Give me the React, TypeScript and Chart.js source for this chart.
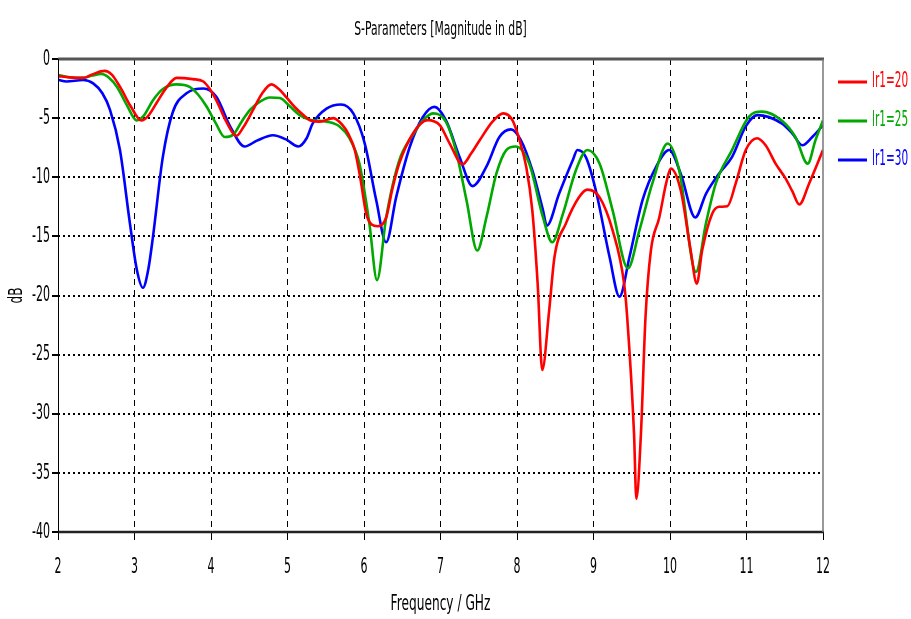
import React, { useEffect, useRef } from "react";
import { Chart, registerables } from "chart.js";

Chart.register(...registerables);

const FONT = "'DejaVu Sans', 'Liberation Sans', sans-serif";

const chartTitle = "S-Parameters [Magnitude in dB]";
const xTitle = "Frequency / GHz";
const yTitle = "dB";
const seriesNames = ["lr1=20", "lr1=25", "lr1=30"];
const seriesColors = ["#ff0000", "#00a800", "#0000ff"];

const freq20 = [2.0, 2.15, 2.33, 2.45, 2.61, 2.7, 2.81, 2.95, 3.09, 3.18, 3.29, 3.42, 3.55, 3.76, 3.9, 3.98, 4.07, 4.2, 4.33, 4.42, 4.55, 4.67, 4.79, 4.88, 4.98, 5.1, 5.2, 5.3, 5.42, 5.6, 5.72, 5.8, 5.88, 5.95, 6.03, 6.1, 6.18, 6.29, 6.37, 6.46, 6.64, 6.83, 6.99, 7.12, 7.29, 7.4, 7.51, 7.68, 7.82, 7.94, 8.03, 8.12, 8.2, 8.27, 8.33, 8.42, 8.49, 8.64, 8.81, 8.92, 9.08, 9.25, 9.4, 9.44, 9.53, 9.56, 9.62, 9.68, 9.75, 9.86, 9.95, 10.01, 10.14, 10.27, 10.35, 10.42, 10.55, 10.64, 10.75, 10.86, 10.99, 11.14, 11.25, 11.38, 11.51, 11.6, 11.69, 11.82, 12.0];
const db20 = [-1.45, -1.55, -1.6, -1.3, -1.0, -1.3, -2.35, -4.0, -5.2, -4.8, -3.7, -2.4, -1.6, -1.7, -1.9, -2.5, -3.5, -5.3, -6.5, -5.8, -4.3, -2.9, -2.15, -2.5, -3.2, -4.1, -4.7, -5.2, -5.3, -5.0, -5.6, -6.4, -7.7, -10.0, -13.1, -14.0, -14.15, -13.4, -11.0, -8.85, -6.3, -5.17, -5.6, -7.15, -8.9, -8.0, -6.9, -5.3, -4.6, -5.17, -6.8, -9.1, -12.8, -19.0, -26.3, -21.3, -16.75, -13.9, -11.7, -11.05, -11.7, -14.5, -19.0, -21.8, -31.7, -37.2, -31.7, -21.8, -16.2, -13.4, -10.5, -9.27, -11.1, -16.2, -19.0, -16.2, -13.1, -12.5, -12.45, -10.5, -7.7, -6.7, -7.3, -8.85, -10.1, -11.2, -12.3, -10.5, -7.7];

const freq25 = [2.0, 2.15, 2.33, 2.45, 2.57, 2.67, 2.77, 2.9, 3.03, 3.12, 3.24, 3.38, 3.55, 3.72, 3.83, 3.94, 4.06, 4.18, 4.29, 4.4, 4.51, 4.64, 4.77, 4.9, 5.03, 5.16, 5.3, 5.51, 5.68, 5.81, 5.94, 6.07, 6.17, 6.29, 6.46, 6.64, 6.77, 6.9, 7.07, 7.2, 7.34, 7.48, 7.6, 7.73, 7.86, 7.98, 8.16, 8.34, 8.46, 8.6, 8.77, 8.92, 9.08, 9.25, 9.45, 9.6, 9.77, 9.97, 10.12, 10.34, 10.47, 10.6, 10.81, 11.03, 11.2, 11.46, 11.64, 11.8, 11.9, 12.0];
const db25 = [-1.35, -1.55, -1.6, -1.4, -1.27, -1.6, -2.35, -3.9, -5.2, -4.8, -3.5, -2.5, -2.15, -2.35, -3.0, -4.0, -5.4, -6.6, -6.4, -5.3, -4.3, -3.6, -3.25, -3.3, -4.0, -4.75, -5.15, -5.3, -5.7, -6.7, -8.85, -13.9, -18.7, -13.4, -8.6, -6.4, -5.2, -4.6, -5.3, -7.7, -11.95, -16.2, -13.4, -9.7, -7.7, -7.4, -8.85, -13.4, -15.5, -13.1, -9.4, -7.7, -8.85, -12.8, -17.7, -14.5, -10.5, -7.15, -9.4, -18.0, -13.9, -10.5, -7.7, -4.9, -4.45, -5.2, -6.6, -8.85, -6.9, -5.2];

const freq30 = [2.0, 2.11, 2.33, 2.46, 2.58, 2.68, 2.81, 2.94, 3.03, 3.11, 3.18, 3.24, 3.37, 3.5, 3.68, 3.9, 4.07, 4.25, 4.44, 4.6, 4.81, 4.98, 5.14, 5.25, 5.33, 5.51, 5.7, 5.86, 6.01, 6.16, 6.29, 6.42, 6.6, 6.77, 6.92, 7.07, 7.25, 7.42, 7.6, 7.77, 7.92, 8.05, 8.2, 8.34, 8.39, 8.55, 8.73, 8.79, 8.9, 9.03, 9.21, 9.34, 9.47, 9.64, 9.82, 9.99, 10.14, 10.33, 10.47, 10.64, 10.81, 10.99, 11.14, 11.46, 11.6, 11.73, 11.86, 12.0];
const db30 = [-1.75, -1.9, -1.78, -2.06, -2.9, -4.3, -7.7, -13.9, -17.8, -19.35, -17.8, -15.1, -8.3, -4.5, -2.9, -2.5, -3.2, -5.7, -7.4, -6.9, -6.45, -6.8, -7.4, -6.7, -5.45, -4.2, -3.85, -4.6, -7.15, -11.95, -15.5, -11.7, -7.4, -4.9, -4.05, -5.17, -8.3, -10.75, -9.1, -6.6, -5.95, -6.85, -9.4, -12.8, -14.1, -11.4, -8.55, -7.7, -8.3, -11.1, -16.75, -20.1, -16.75, -11.95, -9.1, -7.7, -9.7, -13.4, -11.4, -9.7, -8.3, -5.7, -4.75, -5.45, -6.3, -7.3, -6.6, -5.6];

const xMin = 2, xMax = 12, xStep = 1;
const yMin = -40, yMax = 0, yStep = 5;

const allFreqs = [freq20, freq25, freq30];
const allDb = [db20, db25, db30];

function drawText(ctx: CanvasRenderingContext2D, text: string, x: number, y: number, size: number, sx: number, align: CanvasTextAlign, color: string, rotate = false) {
  ctx.save();
  ctx.translate(x, y);
  if (rotate) ctx.rotate(-Math.PI / 2);
  ctx.scale(sx, 1);
  ctx.font = `${size}px ${FONT}`;
  ctx.fillStyle = color;
  ctx.textAlign = align;
  ctx.textBaseline = "middle";
  ctx.fillText(text, 0, 0);
  ctx.restore();
}

const decorPlugin = {
  id: "decor",
  afterDraw(chart: any) {
    const { ctx, chartArea: a } = chart;
    ctx.save();
    ctx.lineCap = "butt";
    ctx.strokeStyle = "#555555";
    ctx.lineWidth = 3;
    ctx.beginPath(); ctx.moveTo(a.left, a.top); ctx.lineTo(a.right + 1, a.top); ctx.stroke();
    ctx.strokeStyle = "#222222";
    ctx.lineWidth = 2.5;
    ctx.beginPath(); ctx.moveTo(a.left, a.bottom); ctx.lineTo(a.right + 1, a.bottom); ctx.stroke();
    ctx.strokeStyle = "#000000";
    ctx.lineWidth = 1;
    ctx.beginPath(); ctx.moveTo(a.left + 0.5, a.top); ctx.lineTo(a.left + 0.5, a.bottom); ctx.stroke();
    ctx.strokeStyle = "#777777";
    ctx.lineWidth = 1.5;
    ctx.beginPath(); ctx.moveTo(a.right, a.top); ctx.lineTo(a.right, a.bottom); ctx.stroke();
    ctx.restore();

    const cx = (a.left + a.right) / 2;
    drawText(ctx, chartTitle, cx, 30, 20, 0.54, "center", "#000000");
    drawText(ctx, xTitle, cx, 605, 21, 0.58, "center", "#000000");
    drawText(ctx, yTitle, 17, (a.top + a.bottom) / 2, 20, 0.6, "center", "#000000", true);

    const xs = chart.scales.x;
    xs.ticks.forEach((t: any) => {
      drawText(ctx, String(t.value), xs.getPixelForValue(t.value), 567, 22, 0.5, "center", "#000000");
    });
    const ys = chart.scales.y;
    ys.ticks.forEach((t: any) => {
      drawText(ctx, String(t.value), 50, ys.getPixelForValue(t.value), 22, 0.5, "right", "#000000");
    });

    seriesNames.forEach((name, i) => {
      const y = 82 + i * 39;
      ctx.save();
      ctx.strokeStyle = seriesColors[i];
      ctx.lineWidth = 3;
      ctx.beginPath(); ctx.moveTo(838, y); ctx.lineTo(867, y); ctx.stroke();
      ctx.restore();
      drawText(ctx, name, 872, y, 21, 0.5, "left", seriesColors[i]);
    });
  },
};

export default function App() {
  const ref = useRef<HTMLCanvasElement>(null);
  useEffect(() => {
    if (!ref.current) return;
    const datasets = seriesNames.map((name, i) => ({
      label: name,
      data: allFreqs[i].map((f, j) => ({ x: f, y: allDb[i][j] })),
      borderColor: seriesColors[i],
      backgroundColor: seriesColors[i],
      borderWidth: 2.6,
      pointRadius: 0,
      cubicInterpolationMode: "monotone" as const,
      fill: false,
    }));
    const chart = new Chart(ref.current, {
      type: "line",
      data: { datasets },
      options: {
        animation: false,
        responsive: false,
        maintainAspectRatio: false,
        layout: { padding: { top: 59, right: 88, left: 0, bottom: 0 } },
        plugins: { legend: { display: false }, tooltip: { enabled: false }, title: { display: false } },
        scales: {
          x: {
            type: "linear",
            min: xMin,
            max: xMax,
            afterFit: (s: any) => { s.height = 87; },
            border: { display: false, dash: [6, 5] },
            grid: {
              color: (c: any) => (c.tick && (c.tick.value === xMin || c.tick.value === xMax) ? "rgba(0,0,0,0)" : "#000000"),
              lineWidth: 1,
              tickLength: 8,
              tickColor: "#000000",
              drawTicks: true,
            },
            ticks: { display: false, stepSize: xStep },
          },
          y: {
            type: "linear",
            min: yMin,
            max: yMax,
            afterFit: (s: any) => { s.width = 58; },
            border: { display: false, dash: [2, 3] },
            grid: {
              color: (c: any) => (c.tick && (c.tick.value === yMin || c.tick.value === yMax) ? "rgba(0,0,0,0)" : "#000000"),
              lineWidth: 2,
              tickLength: 6,
              tickColor: "#000000",
              drawTicks: true,
            },
            ticks: { display: false, stepSize: yStep },
          },
        },
      },
      plugins: [decorPlugin],
    });
    return () => chart.destroy();
  }, []);
  return (
    <div style={{ position: "fixed", left: 0, top: 0, width: 911, height: 619, background: "#ffffff" }}>
      <canvas ref={ref} width={911} height={619} style={{ width: 911, height: 619 }} />
    </div>
  );
}
